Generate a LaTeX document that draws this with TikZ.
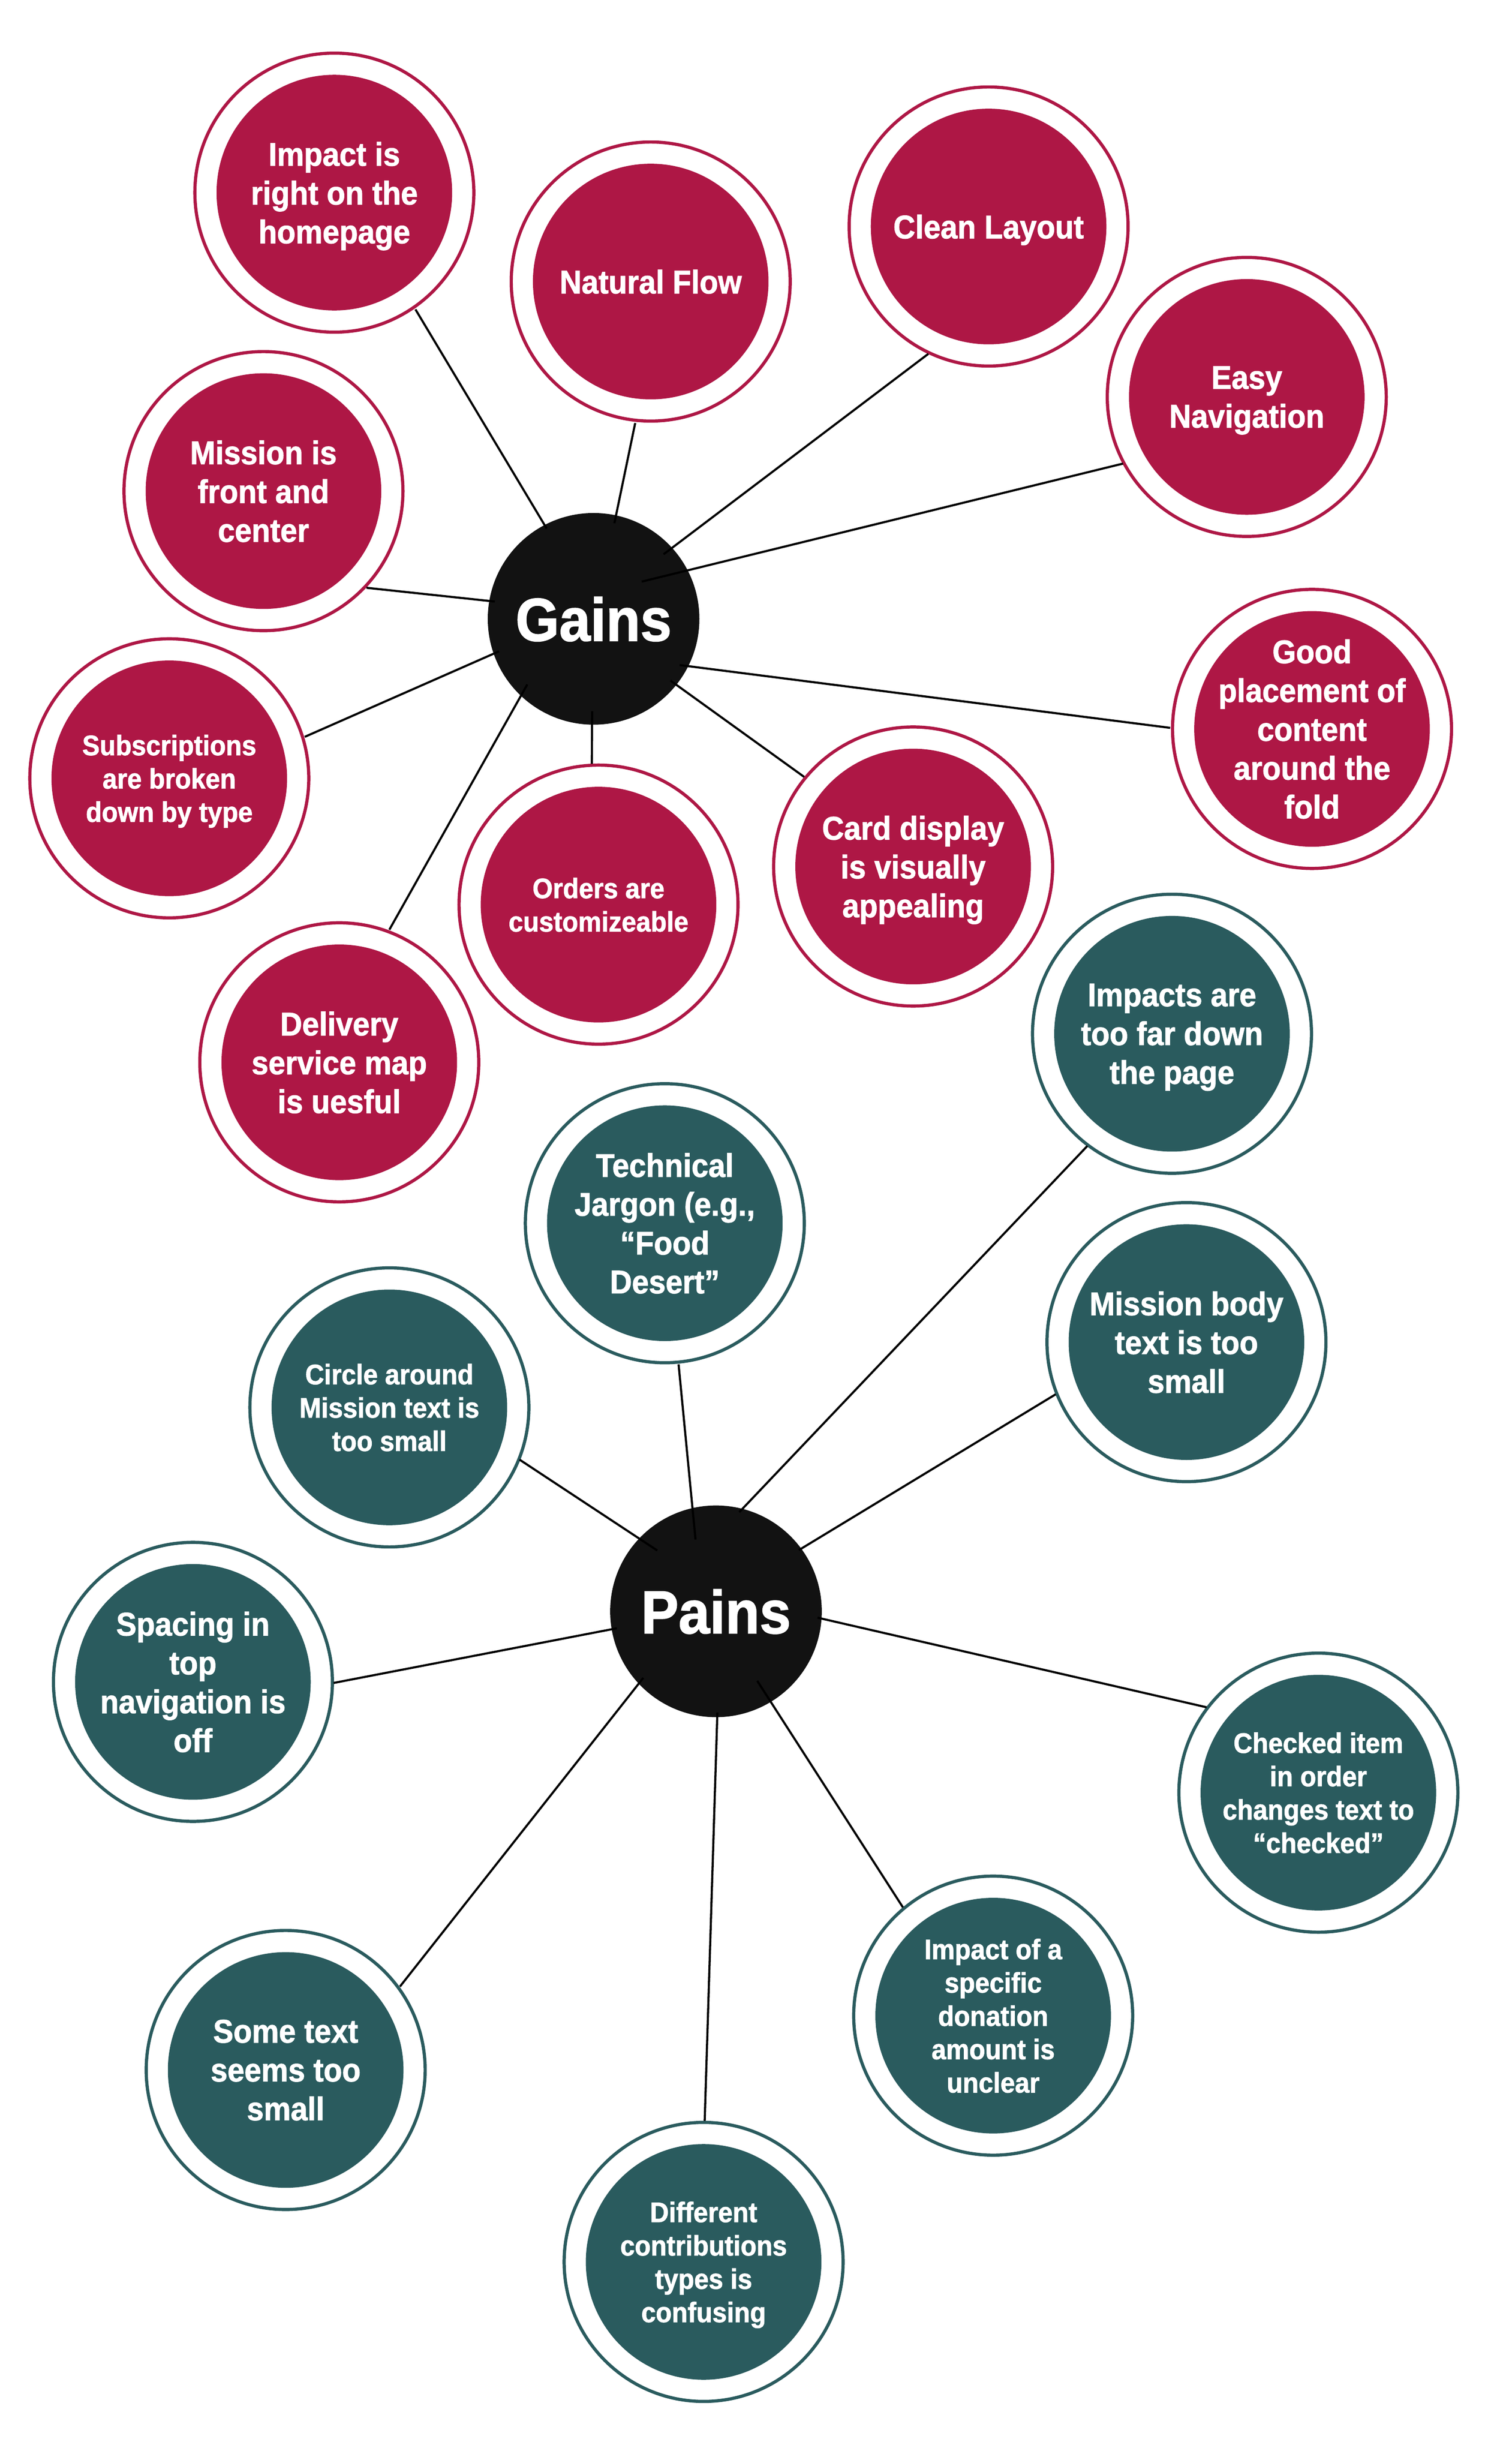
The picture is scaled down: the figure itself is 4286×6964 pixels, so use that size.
\documentclass[tikz,border=0pt]{standalone}
\usepackage{fontspec}
\newfontfamily\bubfont{Liberation Sans}[FakeStretch=0.925, BoldFeatures={FakeBold=1.5}]
\usetikzlibrary{calc}
\definecolor{gred}{HTML}{AE1745}
\definecolor{pteal}{HTML}{2A5B5E}
\definecolor{hubc}{HTML}{121212}
\tikzset{
  bub/.style={circle, draw=#1, line width=0.9pt, fill=white, minimum size=79.1pt,
    inner sep=0pt, text=white, align=center, text depth=0pt,
    path picture={\fill[#1] (path picture bounding box.center) circle (33.4pt);}},
  gainbub/.style={bub=gred},
  painbub/.style={bub=pteal},
  bigtxt/.style={font=\bubfont\bfseries\fontsize{9.3pt}{11pt}\selectfont},
  smalltxt/.style={font=\bubfont\bfseries\fontsize{8pt}{9.45pt}\selectfont},
  hub/.style={circle, fill=hubc, minimum size=60pt, inner sep=0pt, text=white,
    text depth=0pt, font=\bubfont\bfseries\fontsize{17.2pt}{20pt}\selectfont},
  conn/.style={draw=black, line width=0.6pt},
}
\begin{document}
\begin{tikzpicture}[x=0.1pt, y=-0.1pt]
\useasboundingbox (0,0) rectangle (4286,6964);
% hubs
\node[hub] (gains) at (1683,1754) {Gains};
\node[hub] (pains) at (2030,4567) {Pains};
% gains bubbles
\node[gainbub, bigtxt] (impact) at (948,546) {Impact is\\right on the\\homepage};
\node[gainbub, bigtxt] (natural) at (1845,798) {Natural Flow};
\node[gainbub, bigtxt] (clean) at (2803,642) {Clean Layout};
\node[gainbub, bigtxt] (easy) at (3535,1125) {Easy\\Navigation};
\node[gainbub, bigtxt] (mission) at (747,1392) {Mission is\\front and\\center};
\node[gainbub, smalltxt] (subs) at (480,2206) {Subscriptions\\are broken\\down by type};
\node[gainbub, bigtxt] (good) at (3720,2066) {Good\\placement of\\content\\around the\\fold};
\node[gainbub, bigtxt] (card) at (2589,2456) {Card display\\is visually\\appealing};
\node[gainbub, smalltxt] (orders) at (1697,2564) {Orders are\\customizeable};
\node[gainbub, bigtxt] (delivery) at (962,3011) {Delivery\\service map\\is uesful};
% pains bubbles
\node[painbub, bigtxt] (impacts) at (3323,2930) {Impacts are\\too far down\\the page};
\node[painbub, bigtxt] (jargon) at (1885,3467) {Technical\\Jargon (e.g.,\\“Food\\Desert”};
\node[painbub, bigtxt] (mbody) at (3364,3804) {Mission body\\text is too\\small};
\node[painbub, smalltxt] (circ) at (1104,3989) {Circle around\\Mission text is\\too small};
\node[painbub, bigtxt] (spacing) at (547,4767) {Spacing in\\top\\navigation is\\off};
\node[painbub, smalltxt] (checked) at (3738,5081) {Checked item\\in order\\changes text to\\“checked”};
\node[painbub, smalltxt] (specific) at (2816,5713) {Impact of a\\specific\\donation\\amount is\\unclear};
\node[painbub, bigtxt] (sometext) at (810,5867) {Some text\\seems too\\small};
\node[painbub, smalltxt] (different) at (1995,6411) {Different\\contributions\\types is\\confusing};
% gains connectors
\draw[conn] ($(gains)+(-133,-256)$) -- ($(impact)+(230,331)$);
\draw[conn] ($(gains)+(59,-271)$) -- ($(natural)+(-44,401)$);
\draw[conn] ($(gains)+(-280,-49)$) -- ($(mission)+(292,274)$);
\draw[conn] ($(gains)+(198.5,-183)$) -- ($(clean)+(-171,361)$);
\draw[conn] ($(gains)+(136.5,-105.5)$) -- ($(easy)+(-351,189)$);
\draw[conn] ($(gains)+(-268,92)$) -- ($(subs)+(384,-117.5)$);
\draw[conn] ($(gains)+(244,131)$) -- ($(good)+(-402,-3)$);
\draw[conn] ($(gains)+(218,175)$) -- ($(card)+(-309,-254)$);
\draw[conn] ($(gains)+(-4,262)$) -- ($(orders)+(-19,-399)$);
\draw[conn] ($(gains)+(-188,186)$) -- ($(delivery)+(142,-376)$);
% pains connectors
\draw[conn] ($(pains)+(66,-281)$) -- ($(impacts)+(-240,318)$);
\draw[conn] ($(pains)+(-58,-203.5)$) -- ($(jargon)+(39,400)$);
\draw[conn] ($(pains)+(235,-173.5)$) -- ($(mbody)+(-371,148)$);
\draw[conn] ($(pains)+(-166.5,-172.5)$) -- ($(circ)+(369,148)$);
\draw[conn] ($(pains)+(-281,48)$) -- ($(spacing)+(399,3)$);
\draw[conn] ($(pains)+(288,18)$) -- ($(checked)+(-317,-242)$);
\draw[conn] ($(pains)+(117,197)$) -- ($(specific)+(-256,-307)$);
\draw[conn] ($(pains)+(-206,188.5)$) -- ($(sometext)+(324,-236.5)$);
\draw[conn] ($(pains)+(4,287)$) -- ($(different)+(3,-400)$);
\end{tikzpicture}
\end{document}
